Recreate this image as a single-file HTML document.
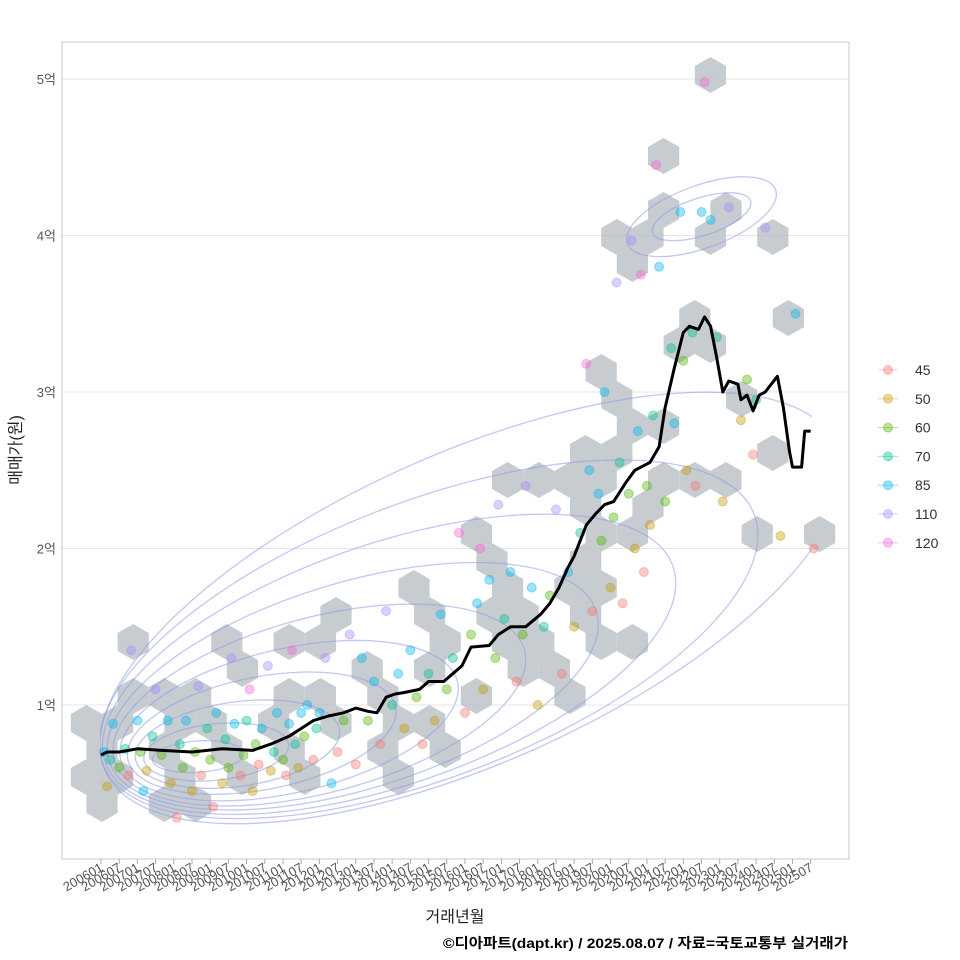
<!DOCTYPE html>
<html><head><meta charset="utf-8"><style>
body{margin:0;background:#fff}
svg{display:block;font-family:"Liberation Sans","Noto Sans CJK KR",sans-serif}
</style></head><body>
<svg id="c" width="960" height="960" xmlns="http://www.w3.org/2000/svg">
<defs><clipPath id="cc"><rect x="100" y="42" width="712" height="790"/></clipPath></defs>
<rect x="0" y="0" width="960" height="960" fill="#fff"/>
<g id="grid"></g>
<g id="hex"></g>
<g id="cont" clip-path="url(#cc)"></g>
<g id="pts"></g>
<g id="ln"></g>
<rect x="62" y="42" width="787" height="817" fill="none" stroke="#c8c8c8"/>
<g id="ax"></g>
<g id="leg"></g>
<text x="455" y="922" font-size="16" text-anchor="middle" fill="#222">거래년월</text>
<text transform="translate(21,450) rotate(-90)" font-size="16" text-anchor="middle" fill="#222">매매가(원)</text>
<text x="443" y="948" font-size="14" font-weight="bold" textLength="405" lengthAdjust="spacingAndGlyphs" fill="#000">©디아파트(dapt.kr) / 2025.08.07 / 자료=국토교통부 실거래가</text>
</svg>
<script>
const yTicks=[1,2,3,4,5];
const yTickLabels=["1억","2억","3억","4억","5억"];
const groups=["45","50","60","70","85","110","120"];
const groupColors=["#F8766D","#C49A00","#53B400","#00C094","#00B6EB","#A58AFF","#FB61D7"];
const lineMonths=[0,2,6,12,20,30,40,50,56,62,66,70,75,80,84,88,91,94,97,100,105,108,113,116,119,122,128,131,135,140,145,148,151,154,156,160,163,166,169,173,176,181,184,186,189,192,194,197,199,201,203,205,207,210,211,213,215,217,219,223,225,227,228,231,232,234];
const lineValues=[0.68,0.7,0.7,0.72,0.71,0.7,0.72,0.71,0.75,0.8,0.85,0.9,0.93,0.95,0.98,0.96,0.95,1.05,1.07,1.08,1.1,1.15,1.15,1.2,1.25,1.37,1.38,1.45,1.5,1.5,1.58,1.65,1.75,1.88,1.95,2.15,2.22,2.28,2.3,2.42,2.5,2.55,2.65,2.9,3.15,3.38,3.42,3.4,3.48,3.42,3.22,3.0,3.07,3.05,2.95,2.98,2.88,2.98,3.0,3.1,2.9,2.62,2.52,2.52,2.75,2.75];
const hexCenters=[[0,0.9],[0,0.55],[0,0.3],[5,0.72],[10,0.9],[10,1.35],[10,0.55],[15,1.1],[20,0.72],[25,1.1],[25,0.4],[30,0.9],[30,0.55],[35,1.1],[35,0.4],[40,1.38],[40,0.9],[45,0.72],[45,1.38],[50,1.2],[50,0.55],[55,0.9],[60,1.38],[60,0.72],[65,1.1],[70,1.38],[70,0.55],[75,1.1],[80,1.5],[80,0.9],[85,1.2],[90,0.72],[95,0.55],[95,1.1],[100,1.72],[100,0.9],[105,1.55],[110,1.2],[110,0.9],[115,1.38],[115,0.72],[120,1.1],[120,2.08],[125,1.55],[125,1.9],[130,1.38],[130,2.4],[135,1.2],[135,1.72],[140,1.55],[140,2.4],[145,1.38],[145,1.2],[150,1.72],[150,1.05],[150,2.4],[155,1.55],[155,2.25],[160,1.38],[160,1.9],[160,2.58],[160,3.15],[165,2.08],[165,3.0],[170,1.72],[170,2.4],[170,2.92],[170,4.0],[175,1.38],[175,2.08],[175,2.58],[175,3.75],[180,2.25],[180,2.75],[180,4.0],[185,2.4],[185,4.55],[190,2.75],[190,3.3],[190,4.15],[195,3.45],[195,2.4],[200,4.0],[200,4.95],[205,3.3],[210,2.4],[210,4.15],[215,2.92],[220,2.58],[220,4.05],[220,2.08],[230,3.45],[236,2.05]];
const points=[[1,0.7,4],[2,0.48,1],[3,0.65,3],[4,0.88,4],[6,0.6,2],[8,0.72,3],[9,0.55,0],[10,1.35,5],[12,0.9,4],[13,0.7,2],[14,0.45,4],[15,0.58,1],[17,0.8,3],[18,1.1,5],[20,0.68,2],[22,0.9,4],[23,0.5,1],[25,0.28,0],[26,0.75,3],[27,0.6,2],[28,0.9,4],[30,0.45,1],[31,0.7,2],[32,1.12,5],[33,0.55,0],[35,0.85,3],[36,0.65,2],[37,0.35,0],[38,0.95,4],[40,0.5,1],[41,0.78,3],[42,0.6,2],[43,1.3,5],[44,0.88,4],[46,0.55,0],[47,0.68,2],[48,0.9,3],[49,1.1,6],[50,0.45,1],[51,0.75,2],[52,0.62,0],[53,0.85,4],[55,1.25,5],[56,0.58,1],[57,0.7,3],[58,0.95,4],[60,0.65,2],[61,0.55,0],[62,0.88,4],[63,1.35,6],[64,0.75,3],[65,0.6,1],[66,0.95,4],[67,0.8,2],[68,1.0,4],[70,0.65,0],[71,0.85,3],[72,0.95,4],[74,1.3,5],[76,0.5,4],[78,0.7,0],[80,0.9,2],[82,1.45,5],[84,0.62,0],[86,1.3,4],[88,0.9,2],[90,1.15,4],[92,0.75,0],[94,1.6,5],[96,1.0,3],[98,1.2,4],[100,0.85,1],[102,1.35,4],[104,1.05,2],[106,0.75,0],[108,1.2,3],[110,0.9,1],[112,1.58,4],[114,1.1,2],[116,1.3,3],[118,2.1,6],[120,0.95,0],[122,1.45,2],[124,1.65,4],[125,2.0,6],[126,1.1,1],[128,1.8,4],[130,1.3,2],[131,2.28,5],[133,1.55,3],[135,1.85,4],[137,1.15,0],[139,1.45,2],[140,2.4,5],[142,1.75,4],[144,1.0,1],[146,1.5,3],[148,1.7,2],[150,2.25,5],[152,1.2,0],[154,1.85,4],[156,1.5,1],[158,2.1,3],[160,3.18,6],[161,2.5,4],[162,1.6,0],[164,2.35,4],[165,2.05,2],[166,3.0,4],[168,1.75,1],[169,2.2,2],[170,3.7,5],[171,2.55,3],[172,1.65,0],[174,2.35,2],[175,3.97,5],[176,2.0,1],[177,2.75,4],[178,3.75,6],[179,1.85,0],[180,2.4,2],[181,2.15,1],[182,2.85,3],[183,4.45,6],[184,3.8,4],[186,2.3,2],[188,3.28,3],[189,2.8,4],[191,4.15,4],[192,3.2,2],[193,2.5,1],[195,3.38,3],[196,2.4,0],[198,4.15,4],[199,4.98,6],[201,4.1,4],[203,3.35,3],[205,2.3,1],[207,4.18,5],[211,2.82,1],[213,3.08,2],[215,2.6,0],[216,2.95,3],[219,4.05,5],[224,2.08,1],[229,3.5,4],[235,2.0,0]];
const contourLevels=[0,1,2,3,4,5,6,7,8,9];
const contourCM=[32,38,45,53,62,72,83,95,108,122];
const contourCV=[0.67,0.7,0.75,0.82,0.9,1.0,1.12,1.26,1.42,1.62];
const contourRX=[15,24,34,45,57,70,84,99,115,132];
const contourRY=[0.1,0.18,0.27,0.36,0.46,0.56,0.66,0.77,0.88,0.99];
const contourRot=[-4,-6,-8,-11,-13,-15,-17,-19,-21,-24];
const smallContour=[[198,4.12,17,0.12,-18],[198,4.12,26,0.2,-20]];

const X=m=>101+m*3.033, Y=v=>861.5-v*156.5;
const NS="http://www.w3.org/2000/svg";
function mk(p,t,a){const e=document.createElementNS(NS,t);for(const k in a)e.setAttribute(k,a[k]);document.getElementById(p).appendChild(e);return e;}
yTicks.forEach((v,i)=>{
 const g=mk('grid','line',{x1:62,x2:849,y1:Y(v),y2:Y(v),stroke:'#e6e6e6'});
 
 
 const t=mk('ax','text',{x:56,y:Y(v)+5,'font-size':13,'text-anchor':'end',fill:'#555'});
 t.textContent=yTickLabels[i];
 
 
});
for(let i=0;i<40;i++){
 const m=i*6,yr=2006+Math.floor(m/12),mo=(m%12)+1,x=X(m);
 const tk=mk('ax','line',{x1:x,x2:x,y1:859,y2:864,stroke:'#aaa'});
 
 
 const t=mk('ax','text',{transform:`translate(${x+3},${870}) rotate(-30)`,'font-size':13,'text-anchor':'end',fill:'#555'});
 t.textContent=yr+String(mo).padStart(2,'0');
 
 
}
const seen={};
hexCenters.forEach(h=>{
 const row=Math.round((750-Y(h[1]))/27);
 const off=(row%2)?15.6:0;
 const col=Math.round((X(h[0])-102-off)/31.2);
 const key=row+'_'+col; if(seen[key])return; seen[key]=1;
 const cx=102+off+col*31.2,cy=750-row*27,r=18;let d='';
 for(let k=0;k<6;k++){const a=Math.PI/180*(60*k-90);d+=(k?'L':'M')+(cx+r*Math.cos(a)).toFixed(1)+','+(cy+r*Math.sin(a)).toFixed(1);}
 const e=mk('hex','path',{d:d+'Z',fill:'#b9bfc6','fill-opacity':0.8});
 
 
});
contourLevels.forEach(i=>{
 const e=mk('cont','ellipse',{cx:X(contourCM[i]),cy:Y(contourCV[i]),rx:contourRX[i]*3.033,ry:contourRY[i]*156.5,transform:`rotate(${contourRot[i]} ${X(contourCM[i])} ${Y(contourCV[i])})`,fill:'none',stroke:'#8c9be8','stroke-opacity':0.55,'stroke-width':1.3});
 
 
});
smallContour.forEach(s=>{
 const e=mk('cont','ellipse',{cx:X(s[0]),cy:Y(s[1]),rx:s[2]*3.033,ry:s[3]*156.5,transform:`rotate(${s[4]} ${X(s[0])} ${Y(s[1])})`,fill:'none',stroke:'#8c9be8','stroke-opacity':0.55,'stroke-width':1.3});
 
 
});
points.forEach(p=>{
 const e=mk('pts','circle',{cx:X(p[0]),cy:Y(p[1]),r:4.5,fill:groupColors[p[2]],'fill-opacity':0.4,stroke:groupColors[p[2]],'stroke-opacity':0.4});
 
 
});
const ld=lineMonths.map((m,i)=>(i?'L':'M')+X(m).toFixed(1)+','+Y(lineValues[i]).toFixed(1)).join('');
const pl=mk('ln','path',{d:ld,fill:'none',stroke:'#000','stroke-width':3,'stroke-linejoin':'round'});


groups.forEach((g,i)=>{
 const y=370+i*28.8;
 const l=mk('leg','line',{x1:878,x2:898,y1:y,y2:y,stroke:groupColors[i],'stroke-opacity':0.4});
 
 
 const c=mk('leg','circle',{cx:888,cy:y,r:4.5,fill:groupColors[i],'fill-opacity':0.4,stroke:groupColors[i],'stroke-opacity':0.4});
 
 
 const t=mk('leg','text',{x:915,y:y+5,'font-size':14,fill:'#333'});
 t.textContent=g;
 
 
});
</script>
</body></html>
